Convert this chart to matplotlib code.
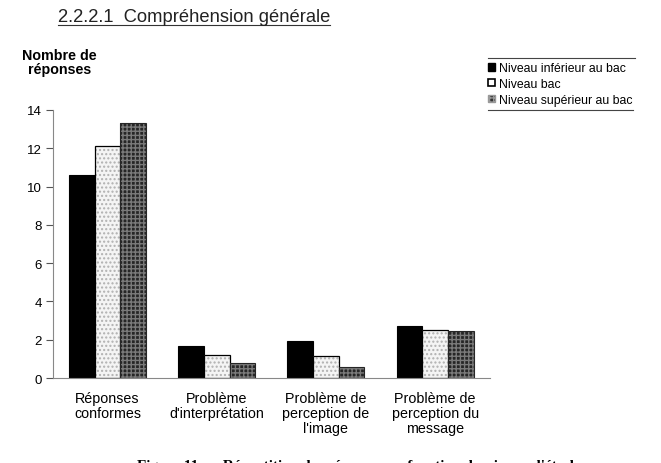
import matplotlib
matplotlib.use("Agg")
import matplotlib.pyplot as plt
from matplotlib.lines import Line2D
from matplotlib.patches import Patch
import numpy as np

plt.rcParams['font.family'] = ['Liberation Sans', 'DejaVu Sans']

# Data
categories = ["Réponses\nconformes", "Problème\nd'interprétation",
              "Problème de\nperception de\nl'image", "Problème de\nperception du\nmessage"]
inferieur = [10.6, 1.65, 1.96, 2.74]
bac = [12.1, 1.18, 1.15, 2.52]
superieur = [13.3, 0.78, 0.57, 2.45]
series_labels = ["Niveau inférieur au bac", "Niveau bac", "Niveau supérieur au bac"]

fig = plt.figure(figsize=(6.61, 4.64), dpi=100)
ax = fig.add_axes([0.080, 0.183, 0.661, 0.578])

x = np.arange(len(categories))
w = 0.235

# black bars
ax.bar(x - w, inferieur, w, color='black', edgecolor='black', linewidth=0.8)
# light stippled bars
ax.bar(x, bac, w, color='#f4f4f4', edgecolor='#b0b0b0', hatch='....', linewidth=0)
ax.bar(x, bac, w, fill=False, edgecolor='black', linewidth=0.9)
# dark cross-hatched bars
ax.bar(x + w, superieur, w, color='#262626', edgecolor='#7a7a7a', hatch='++++', linewidth=0)
ax.bar(x + w, superieur, w, fill=False, edgecolor='#262626', linewidth=0.8)

ax.set_xlim(-0.5, 3.5)
ax.set_ylim(0, 14)
ax.set_yticks(range(0, 15, 2))
ax.set_xticks(x)
ax.set_xticklabels(categories, fontsize=10.3, linespacing=1.1)
ax.tick_params(axis='x', length=0, pad=9)
ax.tick_params(axis='y', length=5, width=0.8, color='#555555', labelsize=9.5, pad=3)
for s in ['top', 'right']:
    ax.spines[s].set_visible(False)
ax.spines['left'].set_color('#888888')
ax.spines['left'].set_linewidth(0.8)
ax.spines['bottom'].set_color('#888888')
ax.spines['bottom'].set_linewidth(0.8)

# titles
fig.text(0.0877, 0.9526, "2.2.2.1  Compréhension générale", fontsize=13.2, color='#222222',
         va='baseline')
fig.add_artist(Line2D([0.0877, 0.499], [0.943, 0.943], color='#333333', linewidth=0.8))
fig.text(0.09, 0.835, "Nombre de\nréponses", fontsize=10.3, fontweight='bold', ha='center',
         va='bottom', linespacing=0.95)

# legend
handles = [Patch(facecolor='black', edgecolor='black'),
           Patch(facecolor='white', edgecolor='black', linewidth=1.2),
           Patch(facecolor='#333333', edgecolor='#999999', hatch='++++')]
leg = fig.legend(handles, series_labels, loc='upper left', bbox_to_anchor=(0.7315, 0.874),
                 frameon=False, fontsize=8.8, handlelength=0.55, handleheight=0.55,
                 handletextpad=0.3, labelspacing=0.3, borderaxespad=0)
fig.add_artist(Line2D([0.738, 0.96], [0.872, 0.872], color='#444444', linewidth=0.8))
fig.add_artist(Line2D([0.738, 0.958], [0.761, 0.761], color='#444444', linewidth=0.8))

# figure caption (cut at the bottom edge, as on the scanned page)
fig.text(0.207, -0.012, "Figure 11 :    Répartition des réponses en fonction du niveau d'étude",
         fontsize=11, fontweight='bold', family=['Liberation Serif', 'DejaVu Serif'],
         ha='left', va='baseline')

fig.savefig("out.png", dpi=100)
